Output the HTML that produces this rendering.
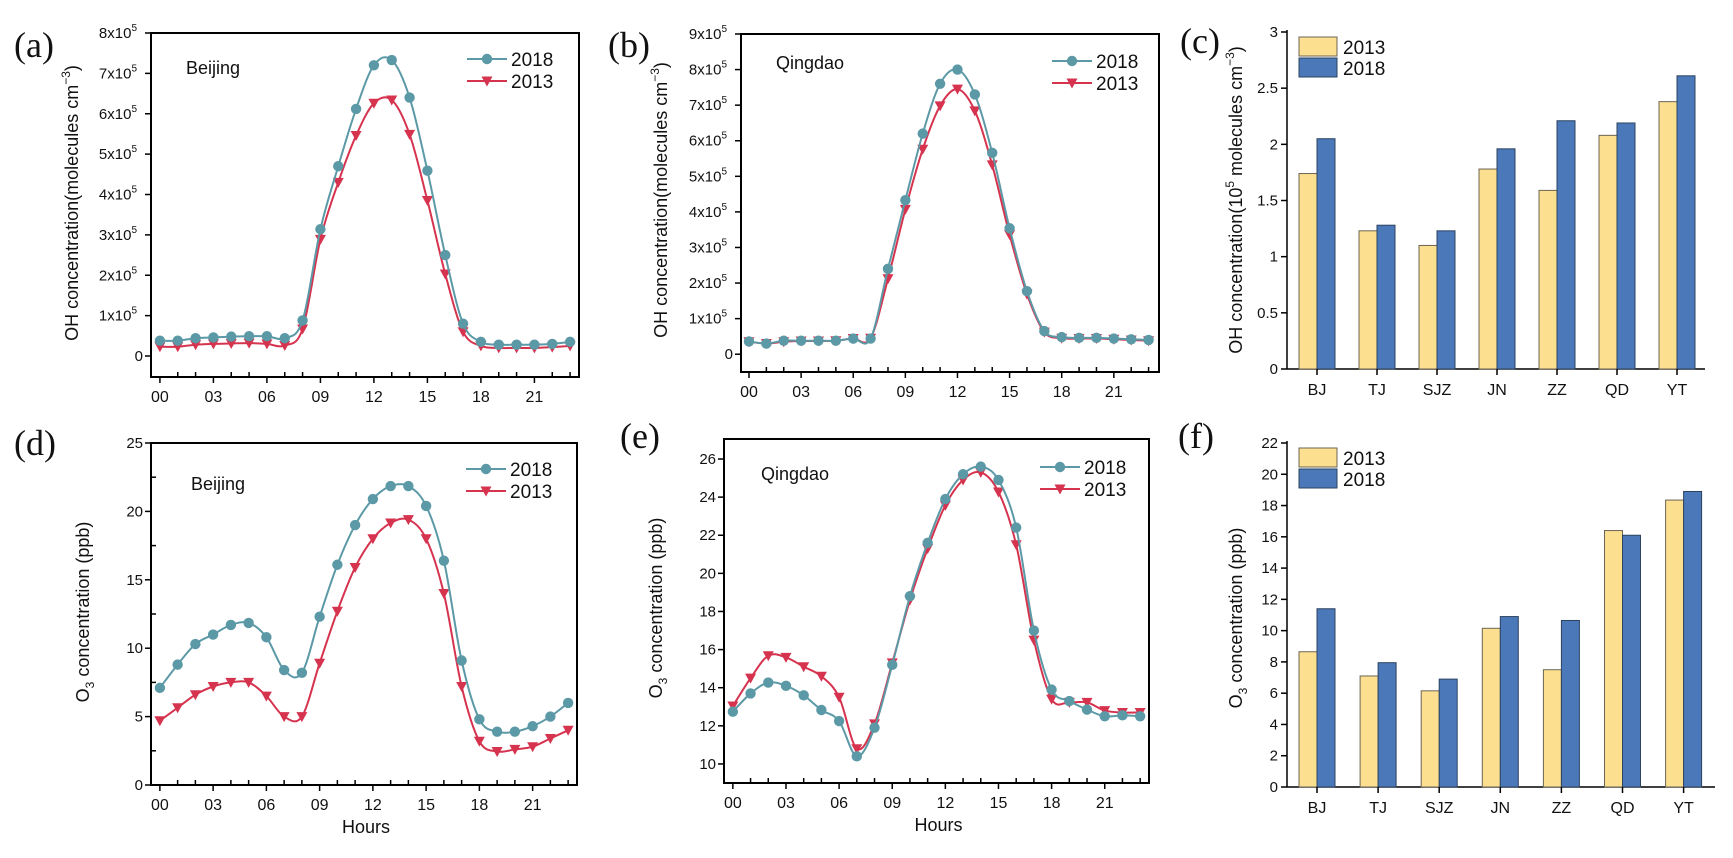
<!DOCTYPE html>
<html><head><meta charset="utf-8"><style>
html,body{margin:0;padding:0;background:#fff}
svg text{font-family:"Liberation Sans",Arial,sans-serif;fill:#111}
.pl{font-family:"Liberation Serif","Times New Roman",serif;font-size:36px}
</style></head><body>
<svg id="fig" width="1733" height="853" viewBox="0 0 1733 853" xmlns="http://www.w3.org/2000/svg"></svg>
<script>
const hours = [0,1,2,3,4,5,6,7,8,9,10,11,12,13,14,15,16,17,18,19,20,21,22,23];
const hourTicks = ['00','03','06','09','12','15','18','21'];
const ohBeijing2018 = [0.38,0.38,0.44,0.46,0.48,0.49,0.49,0.44,0.88,3.14,4.70,6.12,7.20,7.33,6.40,4.59,2.50,0.80,0.35,0.28,0.28,0.28,0.30,0.35];
const ohBeijing2013 = [0.23,0.23,0.28,0.30,0.31,0.32,0.30,0.26,0.67,2.89,4.30,5.46,6.26,6.34,5.49,3.85,2.03,0.60,0.25,0.20,0.20,0.20,0.22,0.25];
const ohQingdao2018 = [0.36,0.30,0.38,0.38,0.38,0.38,0.44,0.44,2.40,4.33,6.20,7.60,8.00,7.30,5.66,3.54,1.77,0.65,0.48,0.46,0.46,0.44,0.42,0.40];
const ohQingdao2013 = [0.35,0.30,0.35,0.37,0.37,0.38,0.44,0.45,2.12,4.07,5.76,6.98,7.45,6.84,5.32,3.36,1.69,0.62,0.45,0.44,0.44,0.42,0.40,0.38];
const o3Beijing2018 = [7.1,8.8,10.3,11.0,11.7,11.85,10.8,8.4,8.2,12.3,16.1,19.0,20.9,21.85,21.85,20.4,16.4,9.1,4.8,3.9,3.9,4.3,5.0,6.0];
const o3Beijing2013 = [4.7,5.65,6.6,7.2,7.5,7.5,6.5,5.0,5.0,8.9,12.7,15.9,18.0,19.15,19.4,18.0,14.0,7.2,3.2,2.45,2.6,2.8,3.4,4.0];
const o3Qingdao2018 = [12.74,13.7,14.27,14.1,13.6,12.83,12.25,10.4,11.9,15.2,18.8,21.6,23.9,25.2,25.6,24.9,22.4,17.0,13.9,13.3,12.85,12.5,12.55,12.5];
const o3Qingdao2013 = [13.04,14.5,15.68,15.59,15.1,14.6,13.5,10.8,12.1,15.3,18.6,21.3,23.57,24.9,25.3,24.27,21.5,16.5,13.4,13.23,13.23,12.8,12.7,12.7];
const cities = ['BJ','TJ','SJZ','JN','ZZ','QD','YT'];
const ohCity2013 = [1.74,1.23,1.10,1.78,1.59,2.08,2.38];
const ohCity2018 = [2.05,1.28,1.23,1.96,2.21,2.19,2.61];
const o3City2013 = [8.65,7.1,6.15,10.15,7.5,16.4,18.35];
const o3City2018 = [11.4,7.95,6.9,10.9,10.65,16.1,18.9];
const ohTicks = [0,1,2,3,4,5,6,7,8,9];
const o3BeijingTicks = [0,5,10,15,20,25];
const o3QingdaoTicks = [10,12,14,16,18,20,22,24,26];
const ohBarTicks = ['0','0.5','1','1.5','2','2.5','3'];
const o3BarTicks = [0,2,4,6,8,10,12,14,16,18,20,22];

const NS='http://www.w3.org/2000/svg';
const svg=document.getElementById('fig');
const C18='#5c99a6', C13='#d6334f';
function mk(tag,attrs,parent){const e=document.createElementNS(NS,tag);for(const k in attrs)e.setAttribute(k,attrs[k]);(parent||svg).appendChild(e);return e;}
function txt(x,y,s,size,anchor,parent){const t=mk('text',{x:x,y:y,'font-size':size,'text-anchor':anchor||'start'},parent);t.textContent=s;return t;}
function smooth(pts){let d='M'+pts[0][0]+','+pts[0][1];for(let i=0;i<pts.length-1;i++){const p0=pts[i-1]||pts[i],p1=pts[i],p2=pts[i+1],p3=pts[i+2]||p2;const c1x=p1[0]+(p2[0]-p0[0])/6,c1y=p1[1]+(p2[1]-p0[1])/6,c2x=p2[0]-(p3[0]-p1[0])/6,c2y=p2[1]-(p3[1]-p1[1])/6;d+=' C'+c1x+','+c1y+' '+c2x+','+c2y+' '+p2[0]+','+p2[1];}return d;}

function letter(x,y,s,name){const t=txt(x,y,s,36,'start');t.setAttribute('class','pl');

}

function lineChart(o){
  const g=mk('g',{});
  
  
  const X=h=>o.l+(h-o.xmin)/(o.xmax-o.xmin)*(o.r-o.l);
  const Y=v=>o.b-(v-o.ymin)/(o.ymax-o.ymin)*(o.b-o.t);
  const box=mk('rect',{x:o.l,y:o.t,width:o.r-o.l,height:o.b-o.t,fill:'none',stroke:'#000','stroke-width':2},g);
  
  
  // x ticks
  hours.forEach(h=>{const x=X(h);const major=h%3===0;mk('line',{x1:x,x2:x,y1:o.b,y2:o.b+(major?6:-5),stroke:'#000','stroke-width':1.5},g);});
  hourTicks.forEach(s=>{const t=txt(X(+s),o.b+25,s,16,'middle',g);
    
    });
  // y ticks
  o.yticks.forEach(v=>{const y=Y(v);mk('line',{x1:o.l-6,x2:o.l,y1:y,y2:y,stroke:'#000','stroke-width':1.5},g);
    const t=txt(o.l-8,y+5,o.sci&&v!==0?v+'x10':String(v),15,'end',g);
    if(o.sci&&v!==0){t.textContent=v+'x10';const sp=mk('tspan',{dy:-7,'font-size':10},t);sp.textContent='5';t.setAttribute('x',o.l-14);}
    
    });
  if(o.minor){for(let i=0;i<o.yticks.length-1;i++){const v=(o.yticks[i]+o.yticks[i+1])/2,y=Y(v);mk('line',{x1:o.l,x2:o.l+5,y1:y,y2:y,stroke:'#000','stroke-width':1.5},g);}}
  // y title
  const yt=mk('text',{x:0,y:0,'font-size':18,'text-anchor':'middle',transform:'translate('+o.ytx+','+o.yty+') rotate(-90)'},g);
  if(o.o3){yt.textContent='O';const s=mk('tspan',{dy:5,'font-size':12},yt);s.textContent='3';const s2=mk('tspan',{dy:-5},yt);s2.textContent=' concentration (ppb)';}
  else{yt.textContent='OH concentration(molecules cm';const s=mk('tspan',{dy:-8,'font-size':12},yt);s.textContent='−3';const s2=mk('tspan',{dy:8},yt);s2.textContent=')';}
  
  
  if(o.hoursLabel){const t=txt((o.l+o.r)/2+2,o.b+48,'Hours',18,'middle',g);
    
    }
  const ct=txt(o.cityX,o.cityY,o.city,18,'start',g);
  
  
  // series
  [[o.s13,C13,'tri','series-2013'],[o.s18,C18,'dot','series-2018']].forEach(([arr,col,mkr,nm])=>{
    const sg=mk('g',{},g);
    
    
    const pts=hours.map((h,i)=>[X(h),Y(arr[i])]);
    mk('path',{d:smooth(pts),fill:'none',stroke:col,'stroke-width':2},sg);
    pts.forEach(p=>{
      if(mkr==='dot')mk('circle',{cx:p[0],cy:p[1],r:5.2,fill:col},sg);
      else mk('path',{d:'M'+(p[0]-5.5)+','+(p[1]-4.5)+' L'+(p[0]+5.5)+','+(p[1]-4.5)+' L'+p[0]+','+(p[1]+5.5)+'Z',fill:col},sg);
    });
  });
  // legend
  const lg=mk('g',{},g);
  
  
  [[o.legY,C18,'dot','2018'],[o.legY+22,C13,'tri','2013']].forEach(([y,col,m,lab])=>{
    mk('line',{x1:o.legX,x2:o.legX+40,y1:y,y2:y,stroke:col,'stroke-width':2},lg);
    const cx=o.legX+20;
    if(m==='dot')mk('circle',{cx:cx,cy:y,r:5.2,fill:col},lg);
    else mk('path',{d:'M'+(cx-5.5)+','+(y-4.5)+' L'+(cx+5.5)+','+(y-4.5)+' L'+cx+','+(y+5.5)+'Z',fill:col},lg);
    txt(o.legX+44,y+7,lab,19,'start',lg);
  });
}

function barChart(o){
  const g=mk('g',{});
  
  
  const Y=v=>o.zero-(v/o.ymax)*(o.zero-o.top);
  mk('line',{x1:o.l,x2:o.l,y1:o.top-2,y2:o.zero,stroke:'#000','stroke-width':1.5},g);
  mk('line',{x1:o.l,x2:o.r,y1:o.zero,y2:o.zero,stroke:'#000','stroke-width':1.5},g);
  o.ticks.forEach(s=>{const v=+s,y=Y(v);mk('line',{x1:o.l-6,x2:o.l,y1:y,y2:y,stroke:'#000','stroke-width':1.5},g);
    const t=txt(o.l-9,y+5,String(s),15,'end',g);
    
    });
  cities.forEach((c,i)=>{const cx=o.c0+i*o.dc;
    const b1=mk('rect',{x:cx-18,y:Y(o.s13[i]),width:18,height:o.zero-Y(o.s13[i]),fill:'#fde08f',stroke:'#6b6455','stroke-width':1},g);
    
    
    const b2=mk('rect',{x:cx,y:Y(o.s18[i]),width:18,height:o.zero-Y(o.s18[i]),fill:'#4a78b9',stroke:'#2c4360','stroke-width':1},g);
    
    
    mk('line',{x1:cx,x2:cx,y1:o.zero,y2:o.zero+6,stroke:'#000','stroke-width':1.5},g);
    const t=txt(cx,o.zero+26,c,16,'middle',g);
    
    });
  const yt=mk('text',{x:0,y:0,'font-size':18,'text-anchor':'middle',transform:'translate('+o.ytx+','+o.yty+') rotate(-90)'},g);
  if(o.o3){yt.textContent='O';const s=mk('tspan',{dy:5,'font-size':12},yt);s.textContent='3';const s2=mk('tspan',{dy:-5},yt);s2.textContent=' concentration (ppb)';}
  else{yt.textContent='OH concentration(10';const s=mk('tspan',{dy:-8,'font-size':12},yt);s.textContent='5';const s2=mk('tspan',{dy:8},yt);s2.textContent=' molecules cm';const s3=mk('tspan',{dy:-8,'font-size':12},yt);s3.textContent='−3';const s4=mk('tspan',{dy:8},yt);s4.textContent=')';}
  
  
  const lg=mk('g',{},g);
  
  
  mk('rect',{x:1299,y:o.legY,width:38,height:19,fill:'#fde08f',stroke:'#6b6455'},lg);
  mk('rect',{x:1299,y:o.legY+21,width:38,height:19,fill:'#4a78b9',stroke:'#2c4360'},lg);
  txt(1343,o.legY+17,'2013',19,'start',lg);
  txt(1343,o.legY+38,'2018',19,'start',lg);
}

letter(14,57,'(a)','panel-label-a');
letter(608,57,'(b)','panel-label-b');
letter(1180,53,'(c)','panel-label-c');
letter(14,455,'(d)','panel-label-d');
letter(620,448,'(e)','panel-label-e');
letter(1178,448,'(f)','panel-label-f');

lineChart({name:'chart-a-oh-beijing',l:151,r:579,t:33,b:377,xmin:-0.5,xmax:23.5,ymin:-0.52,ymax:8.0,yticks:ohTicks.slice(0,9),sci:true,
  s18:ohBeijing2018,s13:ohBeijing2013,ytx:78,yty:203,city:'Beijing',cityX:186,cityY:74,legX:467,legY:59});
lineChart({name:'chart-b-oh-qingdao',l:741,r:1159,t:34,b:372,xmin:-0.46,xmax:23.6,ymin:-0.5,ymax:9.0,yticks:ohTicks,sci:true,
  s18:ohQingdao2018,s13:ohQingdao2013,ytx:667,yty:200,city:'Qingdao',cityX:776,cityY:69,legX:1052,legY:61});
lineChart({name:'chart-d-o3-beijing',l:151,r:577,t:443,b:785,xmin:-0.5,xmax:23.5,ymin:0,ymax:25,yticks:o3BeijingTicks,minor:true,o3:true,hoursLabel:true,
  s18:o3Beijing2018,s13:o3Beijing2013,ytx:89,yty:612,city:'Beijing',cityX:191,cityY:490,legX:466,legY:469});
lineChart({name:'chart-e-o3-qingdao',l:724,r:1149,t:439,b:783,xmin:-0.5,xmax:23.5,ymin:9.0,ymax:27.05,yticks:o3QingdaoTicks,o3:true,hoursLabel:true,
  s18:o3Qingdao2018,s13:o3Qingdao2013,ytx:662,yty:608,city:'Qingdao',cityX:761,cityY:480,legX:1040,legY:467});
barChart({name:'chart-c-oh-cities',l:1287,r:1705,top:32,zero:369,ymax:3,ticks:ohBarTicks,c0:1317,dc:60,s13:ohCity2013,s18:ohCity2018,ytx:1242,yty:200,legY:37});
barChart({name:'chart-f-o3-cities',l:1287,r:1715,top:443,zero:787,ymax:22,ticks:o3BarTicks,c0:1317,dc:61.1,s13:o3City2013,s18:o3City2018,o3:true,ytx:1242,yty:618,legY:448});
</script>
</body></html>
